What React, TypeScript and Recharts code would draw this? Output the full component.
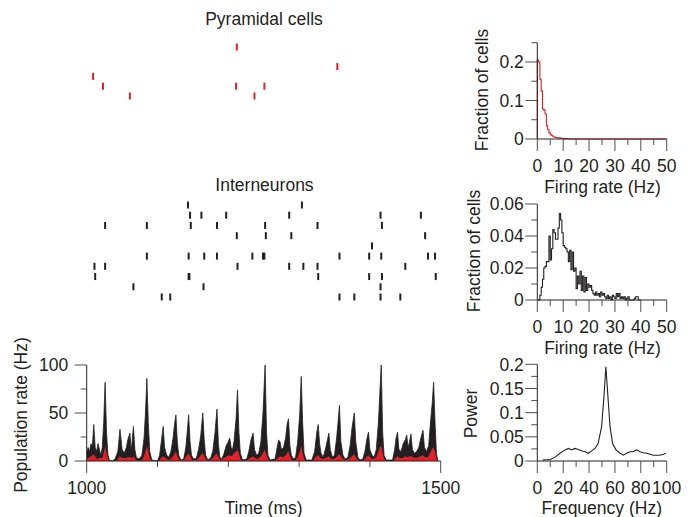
import { ScatterChart, Scatter, ComposedChart, Area, LineChart, Line, XAxis, YAxis } from 'recharts';

const FONT = '"Liberation Sans", Arial, Helvetica, sans-serif';
const INK = '#231f20';
const TICK = '#4d4d4d';
const RED = '#e41f26';
const FS = 17.5;

// spike times (ms) per raster row, top row first
const pyramidalRows: number[][] = [
  [1212],
  [],
  [1354],
  [1009],
  [1023, 1211, 1251],
  [1061, 1237],
];

const interneuronRows: number[][] = [
  [1143, 1304],
  [1146, 1162, 1197, 1286, 1415, 1472],
  [1026, 1085, 1147, 1184, 1252, 1326, 1417],
  [1212, 1253, 1289, 1478],
  [1403],
  [1085, 1144, 1166, 1184, 1234, 1249, 1251, 1357, 1399, 1416, 1482, 1492],
  [1011, 1026, 1213, 1286, 1306, 1326, 1450],
  [1012, 1144, 1145, 1327, 1399, 1417, 1493],
  [1066, 1165, 1415],
  [1106, 1118, 1357, 1378, 1415, 1443],
];

// population rate (Hz): [time ms, rate]
const interneuronRate: [number, number][] = [
  [1000, 8], [1002, 14], [1004, 10], [1006, 18], [1008, 15], [1010, 38], [1012, 14], [1014, 10],
  [1016, 18], [1018, 12], [1020, 6], [1022, 14], [1024, 40], [1026, 82], [1028, 30], [1030, 6],
  [1032, 1], [1036, 0], [1040, 2], [1044, 10], [1047, 33], [1050, 12], [1053, 8], [1056, 14],
  [1058, 22], [1061, 29], [1063, 10], [1066, 36], [1068, 12], [1070, 4], [1074, 2], [1078, 6],
  [1081, 24], [1083, 50], [1085, 86], [1087, 40], [1089, 10], [1092, 1], [1100, 0], [1103, 6],
  [1106, 24], [1108, 36], [1110, 14], [1113, 6], [1116, 4], [1119, 10], [1122, 24], [1124, 38],
  [1126, 48], [1128, 20], [1130, 6], [1133, 1], [1137, 2], [1140, 14], [1142, 30], [1144, 48],
  [1146, 20], [1148, 6], [1151, 2], [1155, 3], [1158, 12], [1161, 26], [1164, 50], [1166, 22],
  [1168, 6], [1171, 1], [1175, 3], [1178, 10], [1181, 28], [1184, 54], [1186, 18], [1188, 4],
  [1191, 2], [1194, 8], [1197, 16], [1200, 20], [1202, 24], [1204, 14], [1206, 12], [1208, 20],
  [1211, 44], [1213, 74], [1215, 30], [1217, 8], [1220, 1], [1226, 2], [1229, 10], [1232, 22],
  [1235, 29], [1237, 12], [1240, 6], [1243, 8], [1246, 20], [1249, 50], [1252, 100], [1254, 30],
  [1256, 6], [1259, 1], [1266, 2], [1269, 14], [1271, 22], [1273, 20], [1275, 12], [1278, 14],
  [1281, 24], [1283, 38], [1285, 44], [1287, 16], [1289, 6], [1292, 2], [1295, 4], [1298, 20],
  [1301, 50], [1303, 88], [1305, 40], [1307, 8], [1310, 1], [1318, 1], [1322, 10], [1325, 30],
  [1327, 38], [1329, 18], [1331, 8], [1334, 4], [1337, 12], [1340, 22], [1342, 29], [1344, 12],
  [1347, 4], [1350, 6], [1353, 24], [1355, 40], [1357, 58], [1359, 20], [1362, 6], [1365, 2],
  [1369, 4], [1372, 16], [1375, 36], [1378, 50], [1380, 20], [1383, 4], [1386, 1], [1390, 2],
  [1393, 10], [1396, 24], [1398, 30], [1400, 12], [1403, 6], [1406, 4], [1409, 12], [1412, 40],
  [1414, 70], [1416, 100], [1418, 30], [1420, 6], [1423, 1], [1432, 1], [1435, 12], [1437, 24],
  [1439, 30], [1441, 12], [1444, 10], [1447, 18], [1450, 22], [1452, 27], [1454, 14], [1456, 20],
  [1458, 28], [1460, 12], [1463, 8], [1466, 10], [1469, 14], [1472, 24], [1475, 32], [1477, 14],
  [1480, 10], [1483, 16], [1486, 44], [1488, 60], [1490, 82], [1492, 40], [1494, 8], [1496, 0],
];

const pyramidalRate: [number, number][] = [
  [1000, 2], [1004, 4], [1006, 5], [1010, 7], [1014, 2], [1018, 3], [1022, 3], [1024, 8],
  [1026, 16], [1028, 8], [1030, 2], [1033, 0], [1042, 0], [1045, 3], [1047, 5], [1050, 3],
  [1055, 3], [1058, 4], [1061, 4], [1064, 3], [1066, 5], [1069, 2], [1072, 0], [1078, 1],
  [1081, 5], [1083, 10], [1085, 16], [1087, 10], [1089, 3], [1092, 0], [1101, 0], [1104, 2],
  [1106, 4], [1108, 5], [1111, 3], [1116, 1], [1120, 3], [1123, 6], [1126, 10], [1128, 5],
  [1131, 1], [1137, 1], [1140, 4], [1142, 6], [1144, 8], [1146, 5], [1149, 1], [1155, 1],
  [1158, 3], [1161, 6], [1164, 8], [1166, 5], [1169, 1], [1175, 1], [1178, 3], [1181, 6],
  [1184, 8], [1186, 4], [1189, 1], [1194, 3], [1198, 5], [1202, 6], [1205, 5], [1208, 8],
  [1211, 10], [1213, 12], [1215, 8], [1217, 2], [1220, 0], [1227, 1], [1230, 3], [1233, 4],
  [1235, 5], [1238, 3], [1242, 2], [1246, 5], [1249, 8], [1252, 12], [1254, 6], [1256, 2],
  [1259, 0], [1267, 1], [1270, 3], [1273, 5], [1276, 4], [1280, 5], [1283, 8], [1285, 10],
  [1287, 5], [1290, 1], [1295, 1], [1298, 4], [1301, 10], [1303, 16], [1305, 8], [1307, 2],
  [1310, 0], [1319, 0], [1322, 3], [1325, 5], [1327, 6], [1330, 3], [1334, 2], [1337, 3],
  [1340, 4], [1342, 5], [1345, 2], [1349, 2], [1353, 4], [1355, 6], [1357, 7], [1359, 5],
  [1362, 2], [1366, 1], [1370, 2], [1373, 4], [1376, 6], [1378, 7], [1380, 4], [1383, 1],
  [1387, 0], [1391, 1], [1394, 3], [1396, 5], [1398, 6], [1401, 3], [1405, 2], [1409, 4],
  [1412, 10], [1414, 14], [1416, 16], [1418, 8], [1420, 2], [1423, 0], [1433, 0], [1436, 3],
  [1439, 5], [1442, 3], [1446, 3], [1450, 5], [1453, 4], [1456, 5], [1458, 5], [1461, 4],
  [1465, 3], [1469, 4], [1472, 5], [1475, 6], [1478, 4], [1482, 4], [1485, 8], [1488, 13],
  [1490, 14], [1492, 10], [1494, 2], [1496, 0],
];

// firing rate histograms (bin start Hz -> fraction of cells)
const pyrBins = [0, 0, 0.5, 1, 1.5, 2, 2.5, 3, 3.5, 4, 4.5, 5, 5.5, 6, 6.5, 7, 7.5, 8, 8.5, 9, 9.5, 10, 10.5, 11, 11.5, 12, 12.5, 50];
const pyrFraction = [0, 0.205, 0.2, 0.155, 0.125, 0.078, 0.075, 0.065, 0.034, 0.024, 0.016, 0.011, 0.009, 0.006, 0.005, 0.004, 0.004, 0.003, 0.003, 0.002, 0.002, 0.001, 0.001, 0.001, 0.0005, 0.0005, 0, 0];

const intBins = [
  0, 0.5, 1, 1.5, 2, 2.5, 3, 3.5, 4, 4.5, 5, 5.5, 6, 6.5, 7, 7.5, 8, 8.5, 9, 9.5,
  10, 10.5, 11, 11.5, 12, 12.5, 13, 13.5, 14, 14.5, 15, 15.5, 16, 16.5, 17, 17.5, 18, 18.5, 19, 19.5,
  20, 20.5, 21, 21.5, 22, 22.5, 23, 23.5, 24, 24.5, 25, 25.5, 26, 26.5, 27, 27.5, 28, 28.5, 29, 29.5,
  30, 30.5, 31, 31.5, 32, 32.5, 33, 33.5, 34, 34.5, 35, 35.5, 36, 36.5, 37, 37.5, 38, 38.5, 39, 39.5, 40,
];
const intFraction = [
  0, 0, 0.003, 0.008, 0.013, 0.02, 0.021, 0.024, 0.024, 0.04, 0.025, 0.032, 0.044, 0.042, 0.038, 0.038, 0.045, 0.054, 0.05, 0.042,
  0.034, 0.033, 0.032, 0.03, 0.024, 0.031, 0.019, 0.03, 0.018, 0.02, 0.007, 0.015, 0.01, 0.018, 0.006, 0.015, 0.005, 0.014, 0.006, 0.01,
  0.008, 0.009, 0.006, 0.004, 0.003, 0.005, 0.003, 0.004, 0.002, 0.005, 0.003, 0.004, 0.002, 0.001, 0.003, 0.001, 0.002, 0, 0.003, 0.002,
  0.001, 0.004, 0.002, 0.004, 0.001, 0.002, 0.001, 0.002, 0, 0.001, 0.002, 0, 0, 0, 0, 0.001, 0.002, 0.002, 0, 0, 0,
];

// power spectrum of the population rate
const frequency = [4, 10, 13.7, 17.5, 21.4, 24, 26.5, 29, 31.7, 34, 37, 39.4, 42, 44.6, 47, 49.7, 51.5, 53, 54.4, 56.2, 58.2, 60.8, 64, 66.5, 69, 71.6, 74, 76.8, 79.4, 82, 84.5, 87, 89.7, 92, 94.8, 97.4, 99.5];
const power = [0.002, 0.003, 0.008, 0.016, 0.023, 0.026, 0.023, 0.026, 0.024, 0.021, 0.019, 0.016, 0.021, 0.026, 0.036, 0.071, 0.133, 0.195, 0.14, 0.071, 0.036, 0.023, 0.016, 0.012, 0.016, 0.019, 0.019, 0.023, 0.019, 0.017, 0.016, 0.014, 0.012, 0.012, 0.012, 0.014, 0.016];

const isIn = (list: number[], v: number) => list.some((m) => Math.abs(m - v) < 1e-9);

function YTick({ x, y, payload, majors, gap }: any) {
  const major = isIn(majors, payload.value);
  return (
    <g>
      <line x1={x - (major ? 12 : 6)} x2={x} y1={y} y2={y} stroke={TICK} />
      {major && (
        <text x={x - gap} y={y + 6.2} textAnchor="end" fontSize={FS} fontFamily={FONT} fill={INK}>
          {payload.value}
        </text>
      )}
    </g>
  );
}

function XTick({ x, y, payload, majors, labels }: any) {
  const major = isIn(majors, payload.value);
  return (
    <g>
      <line x1={x} x2={x} y1={y} y2={y + (major ? 12 : 6)} stroke={TICK} />
      {major && labels && (
        <text x={x} y={y + 32.5} textAnchor="middle" fontSize={FS} fontFamily={FONT} fill={INK}>
          {payload.value}
        </text>
      )}
    </g>
  );
}

const spikeShape = (color: string) => (p: any) => (
  <rect x={p.cx - 1} y={p.cy - 3.5} width={2} height={7} fill={color} />
);

function Raster({ rows, color, top, height, marginTop, marginBottom }: any) {
  const spikes = rows.flatMap((times: number[], row: number) => times.map((t) => ({ t, row })));
  return (
    <div style={{ position: 'absolute', left: 0, top }}>
      <ScatterChart width={460} height={height} margin={{ top: marginTop, bottom: marginBottom, left: 86.7, right: 19.3 }}>
        <XAxis type="number" dataKey="t" domain={[1000, 1500]} hide allowDataOverflow />
        <YAxis type="number" dataKey="row" domain={[0, rows.length - 1]} reversed hide />
        <Scatter data={spikes} shape={spikeShape(color)} isAnimationActive={false} />
      </ScatterChart>
    </div>
  );
}

function Histogram({ top, height, marginTop, marginBottom, data, color, yDomain, yTicks, yMajors, xDomain, xTicks, xMajors, step }: any) {
  return (
    <div style={{ position: 'absolute', left: 460, top }}>
      <LineChart width={235} height={height} data={data} margin={{ top: marginTop, bottom: marginBottom, left: 17.3, right: 28.3 }}>
        <XAxis type="number" dataKey="x" domain={xDomain} ticks={xTicks} interval={0} height={30}
          tickSize={0} tickMargin={0} axisLine={{ stroke: INK }} tick={<XTick majors={xMajors} labels />} />
        <YAxis type="number" domain={yDomain} ticks={yTicks} interval={0} width={60}
          tickSize={0} tickMargin={0} axisLine={{ stroke: INK }} tick={<YTick majors={yMajors} gap={13.5} />} />
        <Line dataKey="y" type={step ? 'stepAfter' : 'linear'} stroke={color} strokeWidth={1.1} dot={false} isAnimationActive={false} />
      </LineChart>
    </div>
  );
}

export default function App() {
  const interData = interneuronRate.map(([t, v]) => ({ t, v }));
  const pyrData = pyramidalRate.map(([t, v]) => ({ t, v }));
  const pyrHist = pyrBins.map((x, i) => ({ x, y: pyrFraction[i] }));
  const intHist = intBins.map((x, i) => ({ x, y: intFraction[i] }));
  const spectrum = frequency.map((x, i) => ({ x, y: power[i] }));

  const label = { fontSize: FS, fontFamily: FONT, fill: INK } as const;

  return (
    <div style={{ position: 'absolute', left: 0, top: 0, width: 695, height: 517, background: '#fff', overflow: 'hidden' }}>
      <Raster rows={pyramidalRows} color={RED} top={0} height={110} marginTop={47} marginBottom={14} />
      <Raster rows={interneuronRows} color={INK} top={170} height={140} marginTop={35} marginBottom={13} />

      <div style={{ position: 'absolute', left: 0, top: 340 }}>
        <ComposedChart width={460} height={177} margin={{ top: 25, bottom: 26, left: 26.7, right: 19.3 }}>
          <XAxis type="number" dataKey="t" domain={[1000, 1500]} ticks={[1000, 1100, 1200, 1300, 1400, 1500]}
            interval={0} height={30} tickSize={0} tickMargin={0} axisLine={{ stroke: INK }} allowDataOverflow
            tick={<XTick majors={[1000, 1500]} labels />} />
          <YAxis type="number" domain={[0, 100]} ticks={[0, 25, 50, 75, 100]} interval={0} width={60}
            tickSize={0} tickMargin={0} axisLine={{ stroke: INK }} tick={<YTick majors={[0, 50, 100]} gap={18.4} />} />
          <Area data={interData} dataKey="v" type="linear" stroke={INK} strokeWidth={0.8} fill={INK} fillOpacity={1} isAnimationActive={false} />
          <Area data={pyrData} dataKey="v" type="linear" stroke="none" fill={RED} fillOpacity={1} isAnimationActive={false} />
        </ComposedChart>
      </div>

      <Histogram top={20} height={180} marginTop={22.7} marginBottom={31} data={pyrHist} color={RED} step
        yDomain={[0, 0.25]} yTicks={[0, 0.05, 0.1, 0.15, 0.2, 0.25]} yMajors={[0, 0.1, 0.2]}
        xDomain={[0, 50]} xTicks={[0, 5, 10, 15, 20, 25, 30, 35, 40, 45, 50]} xMajors={[0, 10, 20, 30, 40, 50]} />
      <Histogram top={180} height={180} marginTop={24} marginBottom={30} data={intHist} color={INK} step
        yDomain={[0, 0.06]} yTicks={[0, 0.01, 0.02, 0.03, 0.04, 0.05, 0.06]} yMajors={[0, 0.02, 0.04, 0.06]}
        xDomain={[0, 50]} xTicks={[0, 5, 10, 15, 20, 25, 30, 35, 40, 45, 50]} xMajors={[0, 10, 20, 30, 40, 50]} />
      <Histogram top={340} height={177} marginTop={24.3} marginBottom={26} data={spectrum} color={INK}
        yDomain={[0, 0.2]} yTicks={[0, 0.025, 0.05, 0.075, 0.1, 0.125, 0.15, 0.175, 0.2]} yMajors={[0, 0.05, 0.1, 0.15, 0.2]}
        xDomain={[0, 100]} xTicks={[0, 10, 20, 30, 40, 50, 60, 70, 80, 90, 100]} xMajors={[0, 20, 40, 60, 80, 100]} />

      <svg width={695} height={517} style={{ position: 'absolute', left: 0, top: 0, pointerEvents: 'none' }}>
        <text x={264} y={25} textAnchor="middle" {...label}>Pyramidal cells</text>
        <text x={264.5} y={190.5} textAnchor="middle" {...label}>Interneurons</text>
        <text x={27} y={415} textAnchor="middle" transform="rotate(-90 27 415)" {...label}>Population rate (Hz)</text>
        <text x={263.5} y={513.5} textAnchor="middle" {...label}>Time (ms)</text>
        <text x={488} y={90} textAnchor="middle" transform="rotate(-90 488 90)" {...label}>Fraction of cells</text>
        <text x={602.5} y={192.5} textAnchor="middle" {...label}>Firing rate (Hz)</text>
        <text x={480} y={251} textAnchor="middle" transform="rotate(-90 480 251)" {...label}>Fraction of cells</text>
        <text x={602.5} y={354} textAnchor="middle" {...label}>Firing rate (Hz)</text>
        <text x={476.5} y={413.5} textAnchor="middle" transform="rotate(-90 476.5 413.5)" {...label}>Power</text>
        <text x={601.7} y={514} textAnchor="middle" {...label}>Frequency (Hz)</text>
      </svg>
    </div>
  );
}
